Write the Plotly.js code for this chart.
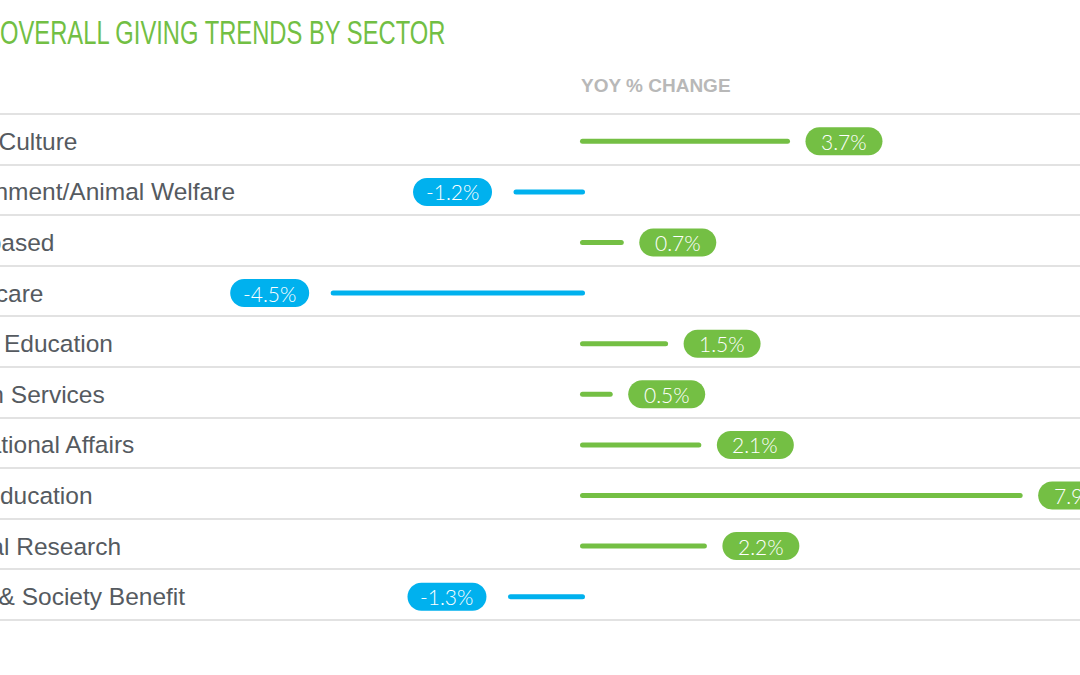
<!DOCTYPE html>
<html>
<head>
<meta charset="utf-8">
<script src="https://cdn.plot.ly/plotly-3.0.1.min.js"></script>
<style>
  html, body { margin: 0; padding: 0; background: #fff; }
  #chart { width: 1080px; height: 675px; }
  .scatterlayer path.js-line { stroke-linecap: round; }
</style>
</head>
<body>
<div id="chart"></div>
<script>
// ---- data ----
const sectors = [
  "Arts & Culture",
  "Environment/Animal Welfare",
  "Faith-based",
  "Healthcare",
  "Higher Education",
  "Human Services",
  "International Affairs",
  "K-12 Education",
  "Medical Research",
  "Public & Society Benefit"
];
const yoyChange = [3.7, -1.2, 0.7, -4.5, 1.5, 0.5, 2.1, 7.9, 2.2, -1.3];
const chartTitle = "OVERALL GIVING TRENDS BY SECTOR";
const columnHeader = "YOY % CHANGE";

// ---- styles ----
const GREEN = "#74bf44";
const BLUE = "#00b1ee";
const W = 1080, H = 675;
const zeroPx = 582.5, pxPerUnit = 55.4;
const rowTop = 114, rowH = 50.6;
const labelFont = "Liberation Sans, Arial, sans-serif";
const pillFont = "Lato, Liberation Sans, Arial, sans-serif";

function segs(filter) {
  const xs = [], ys = [];
  yoyChange.forEach((v, i) => {
    if (filter(v)) { xs.push(0, v, null); ys.push(i, i, null); }
  });
  return { xs, ys };
}
const pos = segs(v => v >= 0);
const neg = segs(v => v < 0);

const traces = [
  { type: "scatter", mode: "lines", x: pos.xs, y: pos.ys,
    line: { color: GREEN, width: 5 }, hoverinfo: "skip", showlegend: false },
  { type: "scatter", mode: "lines", x: neg.xs, y: neg.ys,
    line: { color: BLUE, width: 5 }, hoverinfo: "skip", showlegend: false }
];

function pillPath(x0, x1, h) {
  const r = h / 2, k = 0.5523 * r;
  const a = x0 + r, b = x1 - r;
  return `M${a},${r} L${b},${r} ` +
    `C${b + k},${r} ${x1},${k} ${x1},0 ` +
    `C${x1},${-k} ${b + k},${-r} ${b},${-r} ` +
    `L${a},${-r} ` +
    `C${a - k},${-r} ${x0},${-k} ${x0},0 ` +
    `C${x0},${k} ${a - k},${r} ${a},${r} Z`;
}

const shapes = [];
const annotations = [];

yoyChange.forEach((v, i) => {
  const positive = v >= 0;
  const x0 = positive ? 18 : -103;
  const x1 = positive ? 95 : -24;
  shapes.push({
    type: "path", xref: "x", yref: "y",
    xsizemode: "pixel", ysizemode: "pixel",
    xanchor: v, yanchor: i,
    path: pillPath(x0, x1, 28),
    fillcolor: positive ? GREEN : BLUE, line: { width: 0 }, layer: "above"
  });
  annotations.push({
    xref: "x", yref: "y", x: v, y: i,
    xshift: (x0 + x1) / 2, yshift: 0,
    text: v.toFixed(1) + "%",
    showarrow: false, xanchor: "center", yanchor: "middle",
    font: { family: pillFont, size: 21, color: "#ffffff", weight: 300 }
  });
  annotations.push({
    xref: "paper", yref: "y", x: -77 / W, y: i,
    text: sectors[i], showarrow: false, xanchor: "left", yanchor: "middle",
    font: { family: labelFont, size: 24.5, color: "#555a60" }
  });
});

const extra = 0.1;
const g = 2 / rowH; // separators sit 2px above the row midpoints
const plotTop = rowTop - extra * rowH;
const plotH = (sectors.length + 2 * extra) * rowH;

annotations.push({
  xref: "paper", yref: "paper", x: 579 / W, y: 1, yanchor: "middle",
  yshift: plotTop - 85,
  text: columnHeader, showarrow: false, xanchor: "left",
  font: { family: labelFont, size: 19, color: "#b8b8b8", weight: 700 }
});

annotations.push({
  xref: "paper", yref: "paper", x: -2 / W, y: 1, yanchor: "middle",
  yshift: plotTop - 32,
  text: chartTitle, showarrow: false, xanchor: "left",
  font: { family: labelFont, size: 33, color: "#72bf44" }
});

const gridVals = [];
for (let i = 0; i <= sectors.length; i++) gridVals.push(i - 0.5 - g);

const layout = {
  width: W, height: H,
  margin: { l: 0, r: 0, t: plotTop, b: H - plotTop - plotH, pad: 0 },
  paper_bgcolor: "#ffffff", plot_bgcolor: "#ffffff",
  xaxis: {
    range: [-zeroPx / pxPerUnit, (W - zeroPx) / pxPerUnit],
    showgrid: false, zeroline: false, showticklabels: false, ticks: "", showline: false, fixedrange: true
  },
  yaxis: {
    range: [sectors.length - 0.5 - g + extra, -0.5 - g - extra],
    tickmode: "array", tickvals: gridVals, ticktext: gridVals.map(() => ""),
    showgrid: true, gridcolor: "#e2e2e2", gridwidth: 2,
    zeroline: false, showticklabels: false, ticks: "", showline: false, fixedrange: true
  },
  shapes, annotations, showlegend: false
};

Plotly.newPlot("chart", traces, layout, { displayModeBar: false, staticPlot: true }).then(gd => {
  // condensed look for the title (the reference uses a condensed face)
  gd.querySelectorAll(".annotation-text").forEach(t => {
    if (t.textContent === chartTitle) {
      const bb = t.getBBox();
      const x0 = bb.x;
      t.setAttribute("transform", `translate(${x0},0) scale(0.72,1) translate(${-x0},0)`);
    }
  });
});
</script>
</body>
</html>
